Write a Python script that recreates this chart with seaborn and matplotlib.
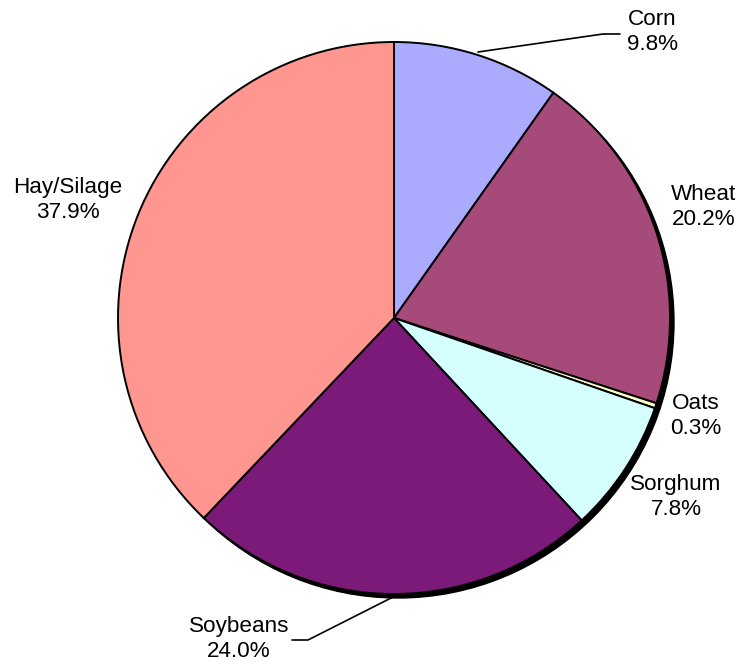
import matplotlib
matplotlib.use("Agg")
import matplotlib.pyplot as plt
import seaborn as sns
from matplotlib.patches import Circle

categories = ["Corn", "Wheat", "Oats", "Sorghum", "Soybeans", "Hay/Silage"]
values = [9.8, 20.2, 0.3, 7.8, 24.0, 37.9]
colors = ["#AAAAFF", "#A64A7A", "#FFFFCC", "#D5FFFF", "#7B1A78", "#FF9690"]

sns.set_theme(style="white")
plt.rcParams['font.family'] = ['Liberation Sans', 'DejaVu Sans']

W, H = 739, 671
fig = plt.figure(figsize=(W / 100, H / 100), dpi=100)
ax = fig.add_axes([0, 0, 1, 1])
ax.set_xlim(0, W)
ax.set_ylim(0, H)
ax.set_aspect("equal")
ax.axis("off")

cx, cy, r = 394, H - 318, 276

# shadow
ax.add_patch(Circle((cx + 4, cy - 4), r, facecolor="black", edgecolor="black", lw=1, zorder=1))

wedges, _ = ax.pie(values, colors=colors, startangle=90, counterclock=False,
                   center=(cx, cy), radius=r, frame=True,
                   wedgeprops=dict(edgecolor="black", linewidth=1.4, zorder=2))
for w in wedges:
    w.set_zorder(2)
ax.set_xlim(0, W)
ax.set_ylim(0, H)
ax.axis("off")

label_pos = [(652, 32), (704, 207), (696, 416), (676, 497), (239, 639), (68, 200)]
for name, val, (x, y) in zip(categories, values, label_pos):
    ax.text(x, H - y, f"{name}\n{val:.1f}%", ha="center", va="center",
            fontsize=16.2, color="black", linespacing=1.22, zorder=5)

# leader lines
ax.plot([478, 603, 620], [H - 52, H - 34, H - 34], color="black", lw=1.2, zorder=4)
ax.plot([397, 308, 292], [H - 595, H - 640, H - 640], color="black", lw=1.2, zorder=4)

fig.savefig("out.png", dpi=100, facecolor="white")
